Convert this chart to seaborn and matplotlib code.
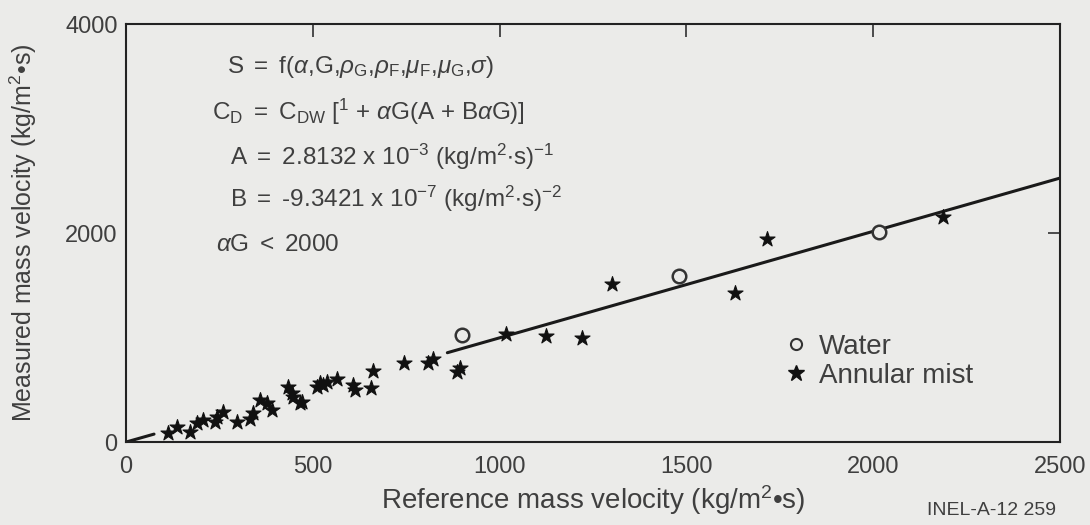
import matplotlib
matplotlib.use("Agg")
import matplotlib.pyplot as plt
from matplotlib.lines import Line2D
import seaborn as sns
import pandas as pd

# ---- data ----
water_x = [900, 1480, 2015]
water_y = [1020, 1590, 2010]

mist_x = [112, 136, 171, 190, 206, 238, 243, 260, 297, 332, 340, 359, 377, 391,
          434, 444, 447, 466, 471, 511, 519, 527, 538, 565, 608, 613, 656, 661,
          744, 808, 822, 886, 894, 1017, 1124, 1221, 1301, 1630, 1716, 2187]
mist_y = [86, 144, 96, 182, 210, 191, 239, 287, 191, 220, 277, 402, 373, 306,
          526, 469, 431, 373, 383, 526, 565, 545, 574, 603, 545, 498, 517, 680,
          756, 756, 794, 670, 708, 1033, 1014, 995, 1512, 1426, 1943, 2153]

fit_low_x = [0, 75]
fit_low_y = [0, 76]
fit_high_x = [860, 2500]
fit_high_y = [855, 2527]

x_ticks = [0, 500, 1000, 1500, 2000, 2500]
y_ticks = [0, 2000, 4000]

BG = "#ebebe9"
FG = "#3f3f3f"

sns.set_theme(style="white")
plt.rcParams['font.family'] = ['Liberation Sans', 'DejaVu Sans']
plt.rcParams['mathtext.fontset'] = 'custom'
plt.rcParams['mathtext.rm'] = 'Liberation Sans'
plt.rcParams['mathtext.it'] = 'Liberation Sans:italic'
plt.rcParams['mathtext.bf'] = 'Liberation Sans:bold'

fig = plt.figure(figsize=(10.9, 5.25), dpi=100, facecolor=BG)
ax = fig.add_axes([0.1156, 0.158, 0.857, 0.796])
ax.set_facecolor(BG)

ax.plot(fit_low_x, fit_low_y, color="#1a1a1a", lw=2.2, zorder=2)
ax.plot(fit_high_x, fit_high_y, color="#1a1a1a", lw=2.2, zorder=2)

mist = pd.DataFrame({"x": mist_x, "y": mist_y})
water = pd.DataFrame({"x": water_x, "y": water_y})
sns.scatterplot(data=mist, x="x", y="y", marker="*", s=130, color="#111111",
                edgecolor="#111111", linewidth=0.8, ax=ax, zorder=3)
sns.scatterplot(data=water, x="x", y="y", marker="o", s=95, facecolor=BG,
                edgecolor="#333333", linewidth=1.8, ax=ax, zorder=4)

ax.set_xlim(0, 2500)
ax.set_ylim(0, 4000)
ax.set_xticks(x_ticks)
ax.set_yticks(y_ticks)
ax.tick_params(direction="in", length=9, width=1.3, top=True, right=True,
               labelsize=17, colors=FG, pad=6)
ax.tick_params(axis="x", pad=10)
for s in ax.spines.values():
    s.set_linewidth(1.5)
    s.set_color("#222222")

ax.set_xlabel("Reference mass velocity (kg/m$^2$\u2022s)", fontsize=20, color=FG, labelpad=4)
ax.set_ylabel("Measured mass velocity (kg/m$^2$\u2022s)", fontsize=18, color=FG, labelpad=4)
ax.yaxis.set_label_coords(-0.093, 0.5)

tx = dict(fontsize=17.5, color=FG, transform=ax.transAxes, va="center", ha="left")
ax.text(0.108, 0.897, r"S $=$ f($\alpha$,G,$\rho_{\rm G}$,$\rho_{\rm F}$,$\mu_{\rm F}$,$\mu_{\rm G}$,$\sigma$)", **tx)
ax.text(0.092, 0.790, r"C$_{\rm D}$ $=$ C$_{\rm DW}$ [$^1$ + $\alpha$G(A + B$\alpha$G)]", **tx)
ax.text(0.111, 0.683, r"A $=$ 2.8132 x 10$^{-3}$ (kg/m$^2$$\bullet$s)$^{-1}$", **tx)
ax.text(0.111, 0.582, r"B $=$ -9.3421 x 10$^{-7}$ (kg/m$^2$$\bullet$s)$^{-2}$", **tx)
ax.text(0.096, 0.472, r"$\alpha$G $<$ 2000", **tx)

handles = [
    Line2D([], [], marker="o", linestyle="", markerfacecolor=BG, markeredgecolor="#333333",
           markeredgewidth=1.5, markersize=8, label="Water"),
    Line2D([], [], marker="*", linestyle="", color="#111111", markersize=12, label="Annular mist"),
]
leg = ax.legend(handles=handles, loc="upper left", bbox_to_anchor=(0.69, 0.285),
                frameon=False, fontsize=20, handletextpad=0.35, labelspacing=0.1,
                handlelength=1.0, borderaxespad=0.0)
for t in leg.get_texts():
    t.set_color(FG)

fig.text(0.969, 0.028, "INEL-A-12 259", fontsize=14, color=FG, ha="right", va="center")

fig.savefig("out.png", dpi=100, facecolor=BG)
